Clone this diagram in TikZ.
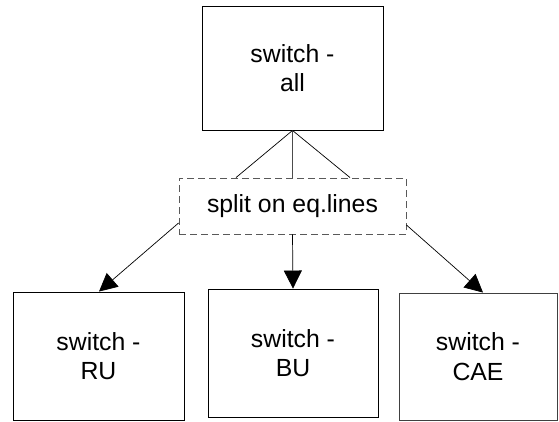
\documentclass[tikz,border=0pt]{standalone}
\usepackage{fontspec}
\setmainfont{Liberation Sans}
\usetikzlibrary{calc,arrows.meta}
\begin{document}
\begin{tikzpicture}[x=1pt,y=-1pt,
  box/.style={draw=black,line width=0.9pt,fill=white,align=center,inner sep=0pt,
    font=\fontsize{24.8}{29.5}\selectfont},
  dbox/.style={draw=black!65,dash pattern=on 7pt off 4pt,line width=0.9pt,align=center,inner sep=0pt,
    font=\fontsize{24.8}{29.5}\selectfont},
  link/.style={draw=black,line width=0.7pt},
  arr/.style={link,-{Triangle[length=18pt,width=18pt]}}]
\useasboundingbox (0,0) rectangle (559,421);
\node[box,minimum width=181pt,minimum height=124pt] (top) at (292.5,68) {switch -\\all};
\node[dbox,minimum width=227pt,minimum height=56pt] (split) at (292.5,206) {split on eq.lines};
\node[box,minimum width=171pt,minimum height=128pt] (ru) at (98.5,356) {switch -\\RU};
\node[box,minimum width=170pt,minimum height=128pt] (bu) at (293,353) {switch -\\BU};
\node[box,draw=black!75,minimum width=158pt,minimum height=127pt] (cae) at (478,356.5) {switch -\\CAE};
\coordinate (s1) at ($(split.north)+(-56.5,0)$);
\coordinate (s3) at ($(split.north)+(57.5,0)$);
\draw[link] (top.south) -- (s1);
\draw[link,draw=black!70] (top.south) -- (split.north);
\draw[link] (top.south) -- (s3);
\coordinate (la) at ($(split.west)+(0,17)$);
\coordinate (ra) at ($(split.east)+(0,19)$);
\draw[arr] (la) -- ($(ru.north)+(0.5,0)$);
\draw[arr] (split.south) -- (bu.north);
\draw[arr] (ra) -- ($(cae.north)+(5,0)$);
\end{tikzpicture}
\end{document}
